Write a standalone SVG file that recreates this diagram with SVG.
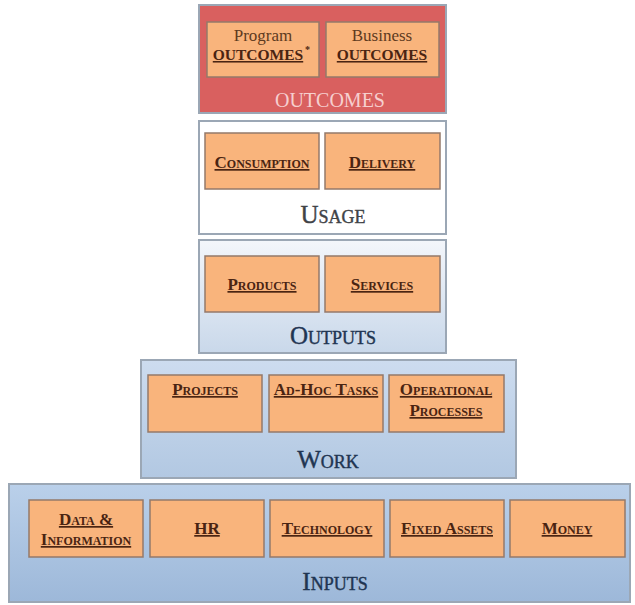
<svg xmlns="http://www.w3.org/2000/svg" width="635" height="605" viewBox="0 0 635 605">
  <style>
    .band { stroke: #9ba7b5; stroke-width: 2; }
    .box { fill: #f9b47c; stroke: #94796a; stroke-width: 1.5; }
    .item { font-family: "Liberation Serif", "DejaVu Serif", serif; font-weight: bold; font-size: 17px; fill: #4a2412; text-anchor: middle; text-decoration: underline; font-variant: small-caps; }
    .caps { font-variant: normal; font-size: 15.5px; }
    .plain { font-family: "Liberation Serif", "DejaVu Serif", serif; font-size: 17px; fill: #5e3a1e; text-anchor: middle; }
    .title { font-family: "Liberation Serif", "DejaVu Serif", serif; font-size: 25px; text-anchor: middle; font-variant: small-caps; stroke-width: 0.4; }
  </style>
  <defs>
    <linearGradient id="gOut" x1="0" y1="0" x2="0" y2="1">
      <stop offset="0" stop-color="#f3f6fb"/>
      <stop offset="1" stop-color="#c9d8ea"/>
    </linearGradient>
    <linearGradient id="gWork" x1="0" y1="0" x2="0" y2="1">
      <stop offset="0" stop-color="#cddcef"/>
      <stop offset="1" stop-color="#b2c8e2"/>
    </linearGradient>
    <linearGradient id="gIn" x1="0" y1="0" x2="0" y2="1">
      <stop offset="0" stop-color="#bad0ea"/>
      <stop offset="1" stop-color="#9db8d9"/>
    </linearGradient>
  </defs>
  <rect width="635" height="605" fill="#ffffff"/>

  <!-- Outcomes tier -->
  <g id="outcomes">
    <rect class="band" x="199" y="5" width="247" height="108" fill="#d9605f" stroke="#c85858"/>
    <g id="program-outcomes">
      <rect class="box" x="207" y="22" width="112" height="55" stroke="#b06a58"/>
      <text class="plain" x="263" y="41">Program</text>
      <text class="item caps" x="258" y="60">OUTCOMES</text>
      <text x="305" y="53" font-family="Liberation Serif, serif" font-weight="bold" font-size="10" fill="#4a2412">*</text>
    </g>
    <g id="business-outcomes">
      <rect class="box" x="326" y="22" width="113" height="55" stroke="#b06a58"/>
      <text class="plain" x="382" y="41">Business</text>
      <text class="item caps" x="382" y="60">OUTCOMES</text>
    </g>
    <text x="330" y="107" font-family="Liberation Serif, DejaVu Serif, serif" font-size="20" fill="#f6cfcf" text-anchor="middle">OUTCOMES</text>
  </g>

  <!-- Usage tier -->
  <g id="usage">
    <rect class="band" x="199" y="121" width="247" height="113" fill="#ffffff"/>
    <g id="consumption">
      <rect class="box" x="205" y="133" width="114" height="56"/>
      <text class="item" x="262" y="168">Consumption</text>
    </g>
    <g id="delivery">
      <rect class="box" x="325" y="133" width="115" height="56"/>
      <text class="item" x="382" y="168">Delivery</text>
    </g>
    <text class="title" x="333" y="223" fill="#3f4347" stroke="#3f4347">Usage</text>
  </g>

  <!-- Outputs tier -->
  <g id="outputs">
    <rect class="band" x="199" y="240" width="247" height="113" fill="url(#gOut)"/>
    <g id="products">
      <rect class="box" x="205" y="256" width="114" height="56"/>
      <text class="item" x="262" y="290">Products</text>
    </g>
    <g id="services">
      <rect class="box" x="325" y="256" width="115" height="56"/>
      <text class="item" x="382" y="290">Services</text>
    </g>
    <text class="title" x="333" y="344" fill="#1f3552" stroke="#1f3552">Outputs</text>
  </g>

  <!-- Work tier -->
  <g id="work">
    <rect class="band" x="141" y="360" width="375" height="118" fill="url(#gWork)"/>
    <g id="projects">
      <rect class="box" x="148" y="375" width="114" height="57"/>
      <text class="item" x="205" y="395">Projects</text>
    </g>
    <g id="ad-hoc-tasks">
      <rect class="box" x="269" y="375" width="114" height="57"/>
      <text class="item" x="326" y="395">Ad-Hoc Tasks</text>
    </g>
    <g id="operational-processes">
      <rect class="box" x="389" y="375" width="115" height="57"/>
      <text class="item" x="446" y="395">Operational</text>
      <text class="item" x="446" y="416">Processes</text>
    </g>
    <text class="title" x="328" y="468" fill="#1f3552" stroke="#1f3552">Work</text>
  </g>

  <!-- Inputs tier -->
  <g id="inputs">
    <rect class="band" x="9" y="484" width="621" height="118" fill="url(#gIn)"/>
    <g id="data-information">
      <rect class="box" x="29" y="500" width="114" height="57"/>
      <text class="item" x="86" y="525">Data &amp;</text>
      <text class="item" x="86" y="545">Information</text>
    </g>
    <g id="hr">
      <rect class="box" x="150" y="500" width="114" height="57"/>
      <text class="item" x="207" y="534">HR</text>
    </g>
    <g id="technology">
      <rect class="box" x="270" y="500" width="114" height="57"/>
      <text class="item" x="327" y="534">Technology</text>
    </g>
    <g id="fixed-assets">
      <rect class="box" x="390" y="500" width="114" height="57"/>
      <text class="item" x="447" y="534">Fixed Assets</text>
    </g>
    <g id="money">
      <rect class="box" x="510" y="500" width="115" height="57"/>
      <text class="item" x="567" y="534">Money</text>
    </g>
    <text class="title" x="335" y="590" fill="#1f3552" stroke="#1f3552">Inputs</text>
  </g>
</svg>
